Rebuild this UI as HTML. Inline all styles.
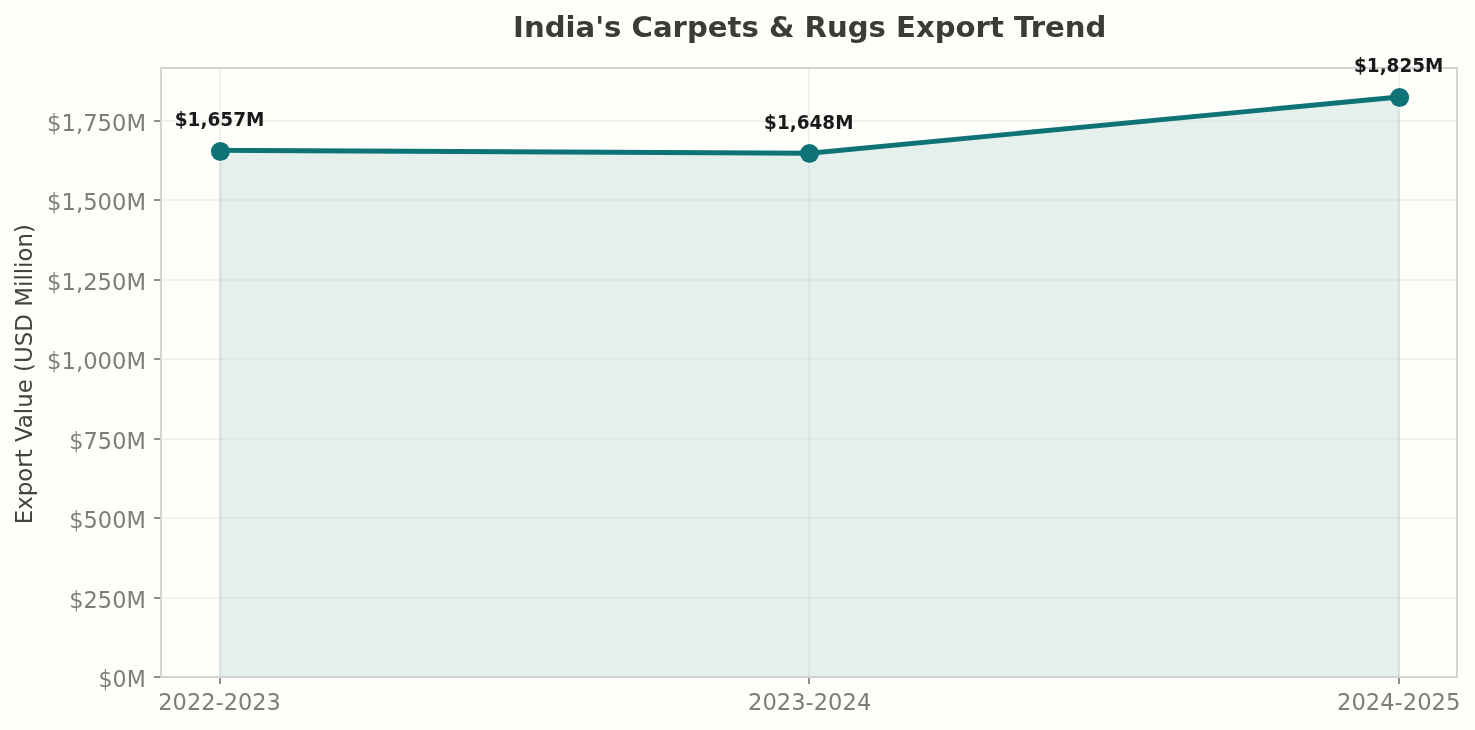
<!DOCTYPE html>
<html lang="en"><head><meta charset="utf-8"><title>India's Carpets &amp; Rugs Export Trend</title>
<style>
html,body{margin:0;padding:0;background:#fefefa;}
body{width:1475px;height:730px;overflow:hidden;}
svg{display:block;}
text{font-family:"DejaVu Sans","Liberation Sans",sans-serif;}
.tk{font-size:22.92px;fill:#7e7e77;}
.an{font-size:18.75px;font-weight:bold;fill:#1a1a1a;}
</style></head><body>
<svg width="1475" height="730" viewBox="0 0 1475 730">
<rect x="0" y="0" width="1475" height="730" fill="#fefefa"/>
<path d="M220.20,677 L220.20,150.39 L809.60,153.25 L1399.00,97.00 L1399.00,677 Z" fill="#0e7377" fill-opacity="0.1" stroke="#0e7377" stroke-opacity="0.1" stroke-width="2.08" stroke-linejoin="miter"/>
<g fill="rgb(198,202,198)" fill-opacity="0.25" shape-rendering="crispEdges">
<rect x="219" y="68" width="2" height="609"/>
<rect x="808" y="68" width="2" height="609"/>
<rect x="1398" y="68" width="2" height="609"/>
<rect x="161" y="676" width="1296" height="2"/>
<rect x="161" y="597" width="1296" height="2"/>
<rect x="161" y="517" width="1296" height="2"/>
<rect x="161" y="438" width="1296" height="2"/>
<rect x="161" y="358" width="1296" height="2"/>
<rect x="161" y="279" width="1296" height="2"/>
<rect x="161" y="199" width="1296" height="2"/>
<rect x="161" y="120" width="1296" height="2"/>
</g>
<g fill="#90908a" shape-rendering="crispEdges">
<rect x="219" y="677" width="2" height="7"/>
<rect x="808" y="677" width="2" height="7"/>
<rect x="1398" y="677" width="2" height="7"/>
<rect x="154" y="676" width="7" height="2"/>
<rect x="154" y="597" width="7" height="2"/>
<rect x="154" y="517" width="7" height="2"/>
<rect x="154" y="438" width="7" height="2"/>
<rect x="154" y="358" width="7" height="2"/>
<rect x="154" y="279" width="7" height="2"/>
<rect x="154" y="199" width="7" height="2"/>
<rect x="154" y="120" width="7" height="2"/>
</g>
<circle cx="220.4" cy="151.5" r="10.3" fill="#fefefa"/>
<circle cx="809.5" cy="153.5" r="10.3" fill="#fefefa"/>
<circle cx="1399.6" cy="97.5" r="10.3" fill="#fefefa"/>
<polyline points="220.20,150.39 809.60,153.25 1399.00,97.00" fill="none" stroke="#0e7377" stroke-width="4.9" stroke-linejoin="round" stroke-linecap="butt"/>
<circle cx="220.4" cy="151.5" r="9.5" fill="#0e7377"/>
<circle cx="809.5" cy="153.5" r="9.5" fill="#0e7377"/>
<circle cx="1399.6" cy="97.5" r="9.5" fill="#0e7377"/>
<g fill="#d4d3d1" shape-rendering="crispEdges">
<rect x="160" y="67" width="1298" height="2"/>
<rect x="160" y="676" width="1298" height="2"/>
<rect x="160" y="67" width="2" height="611"/>
<rect x="1456" y="67" width="2" height="611"/>
</g>
<text class="tk" transform="translate(145.73,687.00) scale(0.966,1)" text-anchor="end">$0M</text>
<text class="tk" transform="translate(145.84,608.00) scale(0.98,1)" text-anchor="end">$250M</text>
<text class="tk" transform="translate(145.84,528.00) scale(0.98,1)" text-anchor="end">$500M</text>
<text class="tk" transform="translate(145.84,449.00) scale(0.98,1)" text-anchor="end">$750M</text>
<text class="tk" transform="translate(146.00,369.00) scale(0.99,1)" text-anchor="end">$1,000M</text>
<text class="tk" transform="translate(146.00,290.00) scale(0.99,1)" text-anchor="end">$1,250M</text>
<text class="tk" transform="translate(146.00,210.00) scale(0.99,1)" text-anchor="end">$1,500M</text>
<text class="tk" transform="translate(146.00,131.00) scale(0.99,1)" text-anchor="end">$1,750M</text>
<text class="tk" transform="translate(219.60,710.00) scale(0.982,1)" text-anchor="middle">2022-2023</text>
<text class="tk" transform="translate(809.65,710.00) scale(0.987,1)" text-anchor="middle">2023-2024</text>
<text class="tk" transform="translate(1398.70,710.00) scale(0.988,1)" text-anchor="middle">2024-2025</text>
<text transform="translate(32,374.2) rotate(-90)" text-anchor="middle" font-size="22.92" fill="#44443f">Export Value (USD Million)</text>
<text transform="translate(809.7,36.85) scale(0.9992,1)" text-anchor="middle" font-size="29.17" font-weight="bold" fill="#3c3c37">India's Carpets &amp; Rugs Export Trend</text>
<text class="an" transform="translate(219.60,126.39) scale(0.986,1)" text-anchor="middle">$1,657M</text>
<text class="an" transform="translate(808.80,129.25) scale(0.982,1)" text-anchor="middle">$1,648M</text>
<text class="an" transform="translate(1398.70,72.10) scale(0.983,1)" text-anchor="middle">$1,825M</text>
</svg></body></html>
